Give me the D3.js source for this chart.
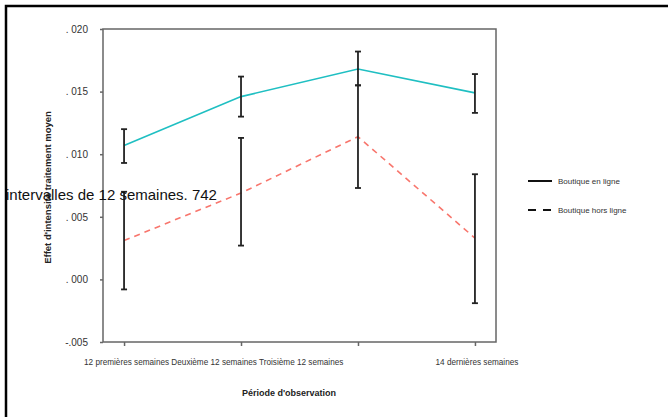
<!DOCTYPE html>
<html>
<head>
<meta charset="utf-8">
<script src="https://cdn.jsdelivr.net/npm/d3@7"></script>
<style>
  body { margin: 0; background: #fff; }
  svg { display: block; font-family: "Liberation Sans", Arial, sans-serif; }
</style>
</head>
<body>
<svg id="chart" width="668" height="417"></svg>
<script>
// periods on the x axis
const periods = ['12 premières semaines', 'Deuxième 12 semaines', 'Troisième 12 semaines', '14 dernières semaines'];
// y ticks
const yTicks = [-0.005, 0, 0.005, 0.010, 0.015, 0.020];
const yTickLabels = ['-.005', '. 000', '. 005', '. 010', '. 015', '. 020'];

// Boutique en ligne: mean, lower, upper
const onlineMean = [0.0107, 0.0146, 0.0168, 0.0149];
const onlineLow = [0.0093, 0.0130, 0.0155, 0.0133];
const onlineHigh = [0.0120, 0.0162, 0.0182, 0.0164];

// Boutique hors ligne: mean, lower, upper
const offlineMean = [0.0031, 0.0069, 0.0114, 0.0033];
const offlineLow = [-0.0008, 0.0027, 0.0073, -0.0019];
const offlineHigh = [0.0070, 0.0113, 0.0155, 0.0084];

const legendLabels = ['Boutique en ligne', 'Boutique hors ligne'];

const svg = d3.select('#chart');
const plot = { left: 103, top: 29, right: 496, bottom: 342 };

// outer frame (only top and left edges are inside the picture)
svg.append('rect')
  .attr('x', 6).attr('y', 6)
  .attr('width', 700).attr('height', 450)
  .attr('fill', 'none')
  .attr('stroke', '#000')
  .attr('stroke-width', 2.5);

const x = d3.scalePoint()
  .domain(periods)
  .range([plot.left, plot.right])
  .padding(0.18);

const y = d3.scaleLinear()
  .domain([-0.005, 0.020])
  .range([plot.bottom, plot.top]);

// plot box
svg.append('rect')
  .attr('x', plot.left).attr('y', plot.top)
  .attr('width', plot.right - plot.left)
  .attr('height', plot.bottom - plot.top)
  .attr('fill', 'none')
  .attr('stroke', '#666')
  .attr('stroke-width', 1.5);

// y axis
const yAxis = d3.axisLeft(y)
  .tickValues(yTicks)
  .tickSize(3)
  .tickPadding(12)
  .tickFormat((d, i) => yTickLabels[i]);
const yg = svg.append('g')
  .attr('transform', `translate(${plot.left},0)`)
  .call(yAxis);
yg.select('.domain').remove();
yg.selectAll('.tick line').attr('stroke', '#666').attr('stroke-width', 1.5);
yg.selectAll('.tick text')
  .attr('fill', '#333')
  .style('font-size', '10px')
  .style('font-family', '"Liberation Sans", Arial, sans-serif');

// x axis ticks
const xAxis = d3.axisBottom(x).tickSize(4).tickFormat('');
const xg = svg.append('g')
  .attr('transform', `translate(0,${plot.bottom})`)
  .call(xAxis);
xg.select('.domain').remove();
xg.selectAll('.tick line').attr('stroke', '#666').attr('stroke-width', 1.5);

// x tick labels: first three run together, the last sits under its tick
svg.append('text')
  .attr('x', 84)
  .attr('y', 365)
  .attr('fill', '#333')
  .style('font-size', '8.2px')
  .text(periods.slice(0, 3).join(' '));
svg.append('text')
  .attr('x', x(periods[3]) + 2)
  .attr('y', 365)
  .attr('text-anchor', 'middle')
  .attr('fill', '#333')
  .style('font-size', '8.2px')
  .text(periods[3]);

// axis titles
svg.append('text')
  .attr('x', 289)
  .attr('y', 396)
  .attr('text-anchor', 'middle')
  .attr('fill', '#222')
  .style('font-size', '9px')
  .style('font-weight', 'bold')
  .text("Période d'observation");

svg.append('text')
  .attr('transform', `translate(51,${(plot.top + plot.bottom) / 2 + 2}) rotate(-90)`)
  .attr('text-anchor', 'middle')
  .attr('fill', '#222')
  .style('font-size', '9.5px')
  .style('font-weight', 'bold')
  .text("Effet d'intensité traitement moyen");

// lines
const line = d3.line()
  .x((d, i) => x(periods[i]))
  .y((d) => y(d));

svg.append('path')
  .datum(onlineMean)
  .attr('d', line)
  .attr('fill', 'none')
  .attr('stroke', '#1FBFC2')
  .attr('stroke-width', 1.6);

svg.append('path')
  .datum(offlineMean)
  .attr('d', line)
  .attr('fill', 'none')
  .attr('stroke', '#F8766D')
  .attr('stroke-width', 1.6)
  .attr('stroke-dasharray', '6,5');

// error bars
function errorBars(low, high) {
  const g = svg.append('g')
    .attr('stroke', '#222')
    .attr('stroke-width', 1.8);
  periods.forEach((p, i) => {
    const cx = x(p);
    g.append('line')
      .attr('x1', cx).attr('x2', cx)
      .attr('y1', y(low[i])).attr('y2', y(high[i]));
    [low[i], high[i]].forEach((v) => {
      g.append('line')
        .attr('x1', cx - 3).attr('x2', cx + 3)
        .attr('y1', y(v)).attr('y2', y(v));
    });
  });
}
errorBars(onlineLow, onlineHigh);
errorBars(offlineLow, offlineHigh);

// legend
const legend = svg.append('g').attr('transform', 'translate(528,181)');
legendLabels.forEach((label, i) => {
  const row = legend.append('g').attr('transform', `translate(0,${i * 29})`);
  row.append('line')
    .attr('x1', 0).attr('x2', 24)
    .attr('stroke', '#111')
    .attr('stroke-width', 2)
    .attr('stroke-dasharray', i === 1 ? '8,7' : null);
  row.append('text')
    .attr('x', 30)
    .attr('y', 3)
    .attr('fill', '#333')
    .style('font-size', '8px')
    .text(label);
});

// stray overlapping note
svg.append('text')
  .attr('x', 6)
  .attr('y', 200)
  .attr('fill', '#111')
  .style('font-size', '15px')
  .text('intervalles de 12 semaines. 742');
</script>
</body>
</html>
